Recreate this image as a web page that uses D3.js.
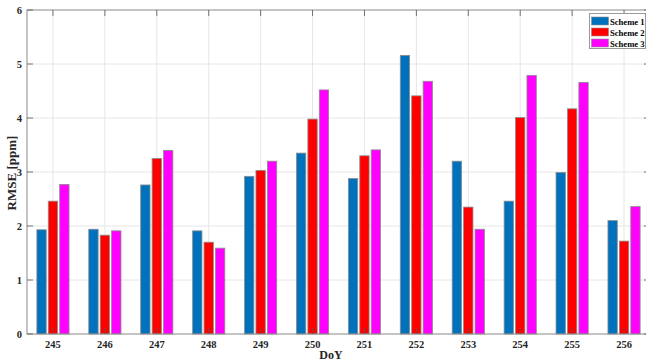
<!DOCTYPE html>
<html>
<head>
<meta charset="utf-8">
<script src="https://cdn.jsdelivr.net/npm/d3@7"></script>
<style>
  html, body { margin: 0; padding: 0; background: #fff; }
  svg { display: block; }
</style>
</head>
<body>
<svg id="chart" width="646" height="363"></svg>
<script>
// Days of year and RMSE values per scheme
const days = [245, 246, 247, 248, 249, 250, 251, 252, 253, 254, 255, 256];
const scheme1 = [1.93, 1.94, 2.76, 1.91, 2.92, 3.35, 2.88, 5.16, 3.20, 2.46, 2.99, 2.10];
const scheme2 = [2.46, 1.83, 3.25, 1.70, 3.03, 3.98, 3.30, 4.41, 2.35, 4.01, 4.17, 1.72];
const scheme3 = [2.77, 1.91, 3.40, 1.59, 3.20, 4.52, 3.41, 4.68, 1.94, 4.79, 4.66, 2.36];
const seriesNames = ["Scheme 1", "Scheme 2", "Scheme 3"];
const seriesColors = ["#0072BD", "#FF0000", "#FF00FF"];
const yTicks = [0, 1, 2, 3, 4, 5, 6];

const series = [scheme1, scheme2, scheme3];

const svg = d3.select("#chart");
const plotL = 27, plotR = 650, plotT = 10, plotB = 334;
const font = "'Liberation Serif', 'Times New Roman', serif";

const x = d3.scaleLinear().domain([244.5, 256.5]).range([plotL, plotR]);
const y = d3.scaleLinear().domain([0, 6]).range([plotB, plotT]);

const unit = x(1) - x(0);
const barW = unit * 0.18;
const barStep = unit * 0.22;

// grid
const grid = svg.append("g");
grid.selectAll("line.gx").data(days).join("line")
  .attr("x1", d => x(d)).attr("x2", d => x(d))
  .attr("y1", plotT).attr("y2", plotB)
  .attr("stroke", "#e6e6e6").attr("stroke-width", 1);
grid.selectAll("line.gy").data(yTicks.slice(1, -1)).join("line")
  .attr("x1", plotL).attr("x2", plotR)
  .attr("y1", d => y(d)).attr("y2", d => y(d))
  .attr("stroke", "#e6e6e6").attr("stroke-width", 1);

// bars
series.forEach((vals, si) => {
  svg.append("g").selectAll("rect").data(vals).join("rect")
    .attr("x", (v, i) => x(days[i]) + (si - 1) * barStep - barW / 2)
    .attr("y", v => y(v))
    .attr("width", barW)
    .attr("height", v => y(0) - y(v))
    .attr("fill", seriesColors[si])
    .attr("stroke", "#8c8c8c")
    .attr("stroke-width", 0.8);
});

// axes box
const axisColor = "#8a8a8a";
svg.append("rect")
  .attr("x", plotL).attr("y", plotT)
  .attr("width", plotR - plotL).attr("height", plotB - plotT)
  .attr("fill", "none").attr("stroke", axisColor).attr("stroke-width", 1);

// inward ticks
const tl = 6;
const ticks = svg.append("g").attr("stroke", "#555").attr("stroke-width", 0.8);
days.forEach(d => {
  ticks.append("line").attr("x1", x(d)).attr("x2", x(d)).attr("y1", plotB).attr("y2", plotB - tl);
  ticks.append("line").attr("x1", x(d)).attr("x2", x(d)).attr("y1", plotT).attr("y2", plotT + tl);
});
yTicks.forEach(t => {
  ticks.append("line").attr("x1", plotL).attr("x2", plotL + tl).attr("y1", y(t)).attr("y2", y(t));
  ticks.append("line").attr("x1", plotR).attr("x2", plotR - tl).attr("y1", y(t)).attr("y2", y(t));
});

// tick labels
svg.append("g").selectAll("text").data(days).join("text")
  .attr("x", d => x(d)).attr("y", 348)
  .attr("text-anchor", "middle")
  .attr("font-family", font).attr("font-weight", "bold").attr("font-size", 10.5)
  .attr("fill", "#262626")
  .text(d => d);
svg.append("g").selectAll("text").data(yTicks).join("text")
  .attr("x", 22).attr("y", d => y(d) + 3.5)
  .attr("text-anchor", "end")
  .attr("font-family", font).attr("font-weight", "bold").attr("font-size", 10.5)
  .attr("fill", "#262626")
  .text(d => d);

// axis titles
svg.append("text")
  .attr("x", 331).attr("y", 359)
  .attr("text-anchor", "middle")
  .attr("font-family", font).attr("font-weight", "bold").attr("font-size", 12)
  .attr("fill", "#262626")
  .text("DoY");
svg.append("text")
  .attr("transform", "translate(15.5,173) rotate(-90)")
  .attr("text-anchor", "middle")
  .attr("font-family", font).attr("font-weight", "bold").attr("font-size", 13)
  .attr("fill", "#262626")
  .text("RMSE [ppm]");

// legend
const lg = svg.append("g");
lg.append("rect")
  .attr("x", 589.5).attr("y", 13.5).attr("width", 56).attr("height", 35)
  .attr("fill", "#fff").attr("stroke", "#9a9a9a").attr("stroke-width", 1);
seriesNames.forEach((name, i) => {
  const cy = 21 + i * 11;
  lg.append("rect")
    .attr("x", 591.5).attr("y", cy - 4).attr("width", 17).attr("height", 8)
    .attr("fill", seriesColors[i]).attr("stroke", "#8c8c8c").attr("stroke-width", 0.6);
  lg.append("text")
    .attr("x", 610).attr("y", cy + 3.5)
    .attr("font-family", font).attr("font-weight", "bold").attr("font-size", 8.6)
    .attr("fill", "#000")
    .text(name);
});
</script>
</body>
</html>
